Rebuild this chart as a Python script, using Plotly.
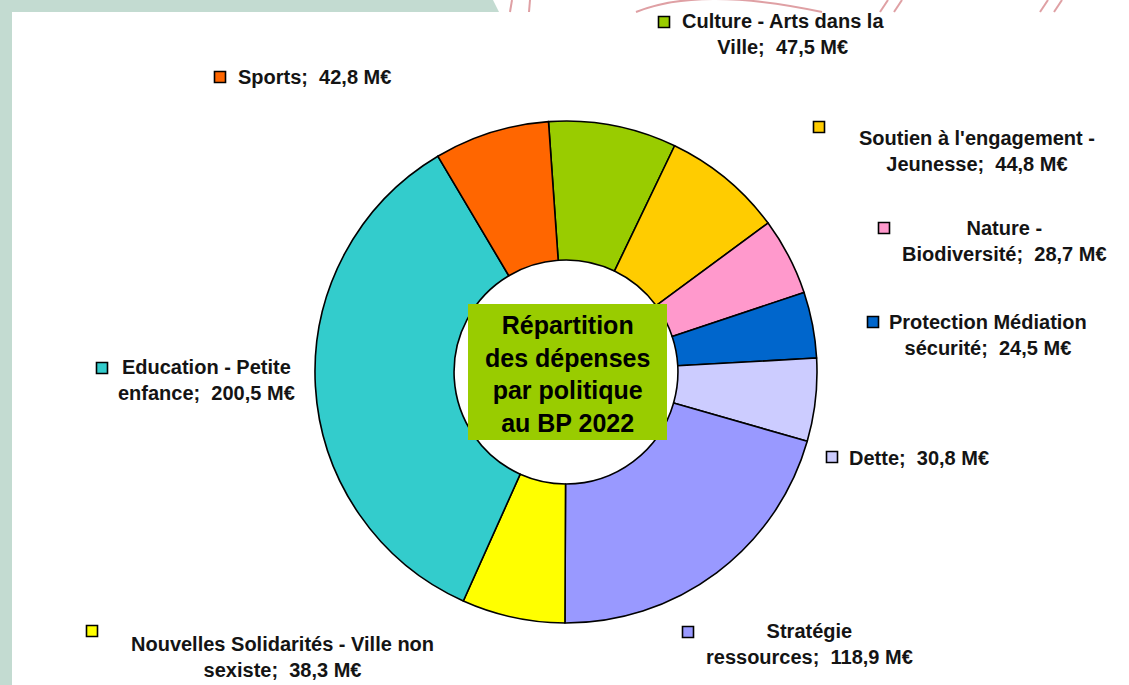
import plotly.graph_objects as go

W, H = 1129, 685

# ---- data ----
categories = [
    "Culture - Arts dans la Ville",
    "Soutien à l'engagement - Jeunesse",
    "Nature - Biodiversité",
    "Protection Médiation sécurité",
    "Dette",
    "Stratégie ressources",
    "Nouvelles Solidarités - Ville non sexiste",
    "Education - Petite enfance",
    "Sports",
]
values = [47.5, 44.8, 28.7, 24.5, 30.8, 118.9, 38.3, 200.5, 42.8]
colors = ["#99cc00", "#ffcc00", "#ff99cc", "#0066cc", "#ccccff",
          "#9999ff", "#ffff00", "#33cccc", "#ff6600"]
unit = "M€"
center_title = "Répartition<br>des dépenses<br>par politique<br>au BP 2022"

# ---- label layout (pixels): square x,y ; text centre x,y ; words on first line ----
label_layout = [
    (664, 22, 783, 34, 5),
    (819, 127, 977, 151, 4),
    (884, 228, 1004, 241, 2),
    (873, 322, 988, 335, 2),
    (832, 457, 919, 458, 0),
    (688, 632, 809, 644, 1),
    (92, 631, 282, 657, 5),
    (102, 368, 206, 380, 3),
    (220, 77, 314, 77, 0),
]


def px(x):
    return x / W


def py(y):
    return 1 - y / H


def fmt(v):
    return f"{v:.1f}".replace(".", ",")


def label_text(name, v, nfirst):
    words = name.split(" ")
    tail = f"; \u00a0{fmt(v)} {unit}"
    if nfirst == 0 or nfirst >= len(words):
        return name + tail
    return " ".join(words[:nfirst]) + "<br>" + " ".join(words[nfirst:]) + tail


cx, cy, R = 566, 372, 251
fig = go.Figure(go.Pie(
    labels=categories,
    values=values,
    sort=False,
    direction="clockwise",
    rotation=-4,
    hole=0.446,
    marker=dict(colors=colors, line=dict(color="#000000", width=1.6)),
    textinfo="none",
    hoverinfo="label+value",
    showlegend=False,
    domain=dict(x=[px(cx - R), px(cx + R)], y=[py(cy + R), py(cy - R)]),
))

shapes = []
bg = "#c3dbd1"
# slide background strips
shapes.append(dict(type="rect", xref="paper", yref="paper", x0=0, x1=px(12), y0=0, y1=1,
                   fillcolor=bg, line=dict(width=0), layer="below"))
shapes.append(dict(type="path", xref="paper", yref="paper",
                   path=f"M 0 1 L {px(493)} 1 L {px(499)} {py(12)} L 0 {py(12)} Z",
                   fillcolor=bg, line=dict(width=0), layer="below"))
# decorative pink strokes at top
pink = "#dfa0a4"
for (x0, y0, x1, y1) in [(512, 0, 510, 12), (530, 0, 529, 12), (888, 0, 880, 12),
                         (902, 0, 894, 12), (1048, 0, 1040, 12), (1062, 0, 1054, 12)]:
    shapes.append(dict(type="line", xref="paper", yref="paper", x0=px(x0), y0=py(y0),
                       x1=px(x1), y1=py(y1), line=dict(color=pink, width=2), layer="below"))
shapes.append(dict(type="path", xref="paper", yref="paper",
                   path=f"M {px(636)} {py(12)} Q {px(700)} {py(-14)} {px(822)} {py(12)}",
                   line=dict(color=pink, width=2), layer="below"))

# centre title box
shapes.append(dict(type="rect", xref="paper", yref="paper",
                   x0=px(468), x1=px(667), y0=py(440), y1=py(304),
                   fillcolor="#99cc00", line=dict(width=0), layer="above"))

annotations = [dict(x=px(567), y=py(374), xref="paper", yref="paper", text=center_title,
                    showarrow=False, xanchor="center", yanchor="middle", align="center",
                    font=dict(family="Arial, Liberation Sans", size=25, color="#000000",
                              weight="bold"))]

sq = 11
for name, v, col, (sx, sy, tx, ty, nf) in zip(categories, values, colors, label_layout):
    shapes.append(dict(type="rect", xref="paper", yref="paper",
                       x0=px(sx - sq / 2), x1=px(sx + sq / 2),
                       y0=py(sy + sq / 2), y1=py(sy - sq / 2),
                       fillcolor=col, line=dict(color="#000000", width=1.6), layer="above"))
    annotations.append(dict(x=px(tx), y=py(ty), xref="paper", yref="paper",
                            text=label_text(name, v, nf), showarrow=False,
                            xanchor="center", yanchor="middle", align="center",
                            font=dict(family="Arial, Liberation Sans", size=20,
                                      color="#141414", weight="bold")))

fig.update_layout(
    width=W, height=H,
    margin=dict(l=0, r=0, t=0, b=0),
    paper_bgcolor="#ffffff",
    plot_bgcolor="#ffffff",
    shapes=shapes,
    annotations=annotations,
)

fig.write_html("out.html", config={"displayModeBar": False},
               post_script="document.body.style.margin='0';")
